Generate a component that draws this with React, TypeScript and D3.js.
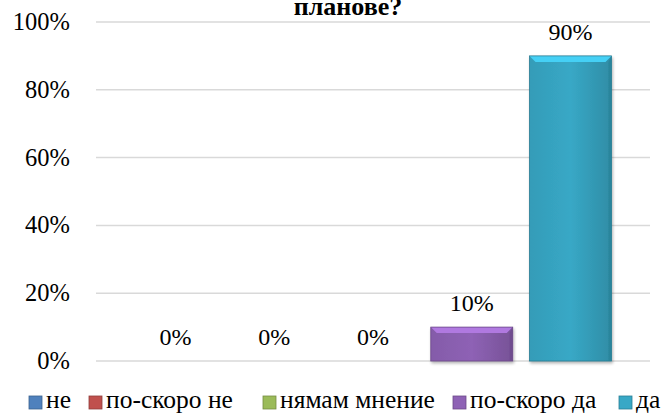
import React from "react";
import * as d3 from "d3";

const categories = ["не", "по-скоро не", "нямам мнение", "по-скоро да", "да"];
const values = [0, 0, 0, 10, 90];
const colors = ["#4f81bd", "#c0504d", "#9bbb59", "#8e62b5", "#38a8c6"];
const yTicks = [0, 20, 40, 60, 80, 100];
const titleLines = ["планове?"];

const W = 666;
const H = 414;
const FONT = '"Liberation Serif", "Times New Roman", serif';

export default function App() {
  const x = d3.scaleBand<string>().domain(categories).range([96, 650]).paddingInner(0.17).paddingOuter(0.39);
  const y = d3.scaleLinear().domain([0, 100]).range([361, 22]);
  const legendX = [29, 89, 263, 453, 619];
  const bw = x.bandwidth();
  const bev = 6;
  const ts = { fontFamily: FONT };

  return (
    <svg width={W} height={H} style={{ position: "absolute", left: 0, top: 0 }}>
      <rect width={W} height={H} fill="#fff" />
      <defs>
        {colors.map((c, i) => (
          <linearGradient key={i} id={`g${i}`} x1="0" y1="0" x2="1" y2="0">
            <stop offset="0" stopColor={d3.color(c)!.darker(0.2).toString()} />
            <stop offset="0.5" stopColor={c} />
            <stop offset="1" stopColor={d3.color(c)!.darker(0.5).toString()} />
          </linearGradient>
        ))}
        <filter id="sh" x="-10%" y="-10%" width="130%" height="130%">
          <feGaussianBlur in="SourceAlpha" stdDeviation="1.5" />
          <feOffset dx="1" dy="2" result="b" />
          <feComponentTransfer><feFuncA type="linear" slope="0.3" /></feComponentTransfer>
          <feMerge><feMergeNode /><feMergeNode in="SourceGraphic" /></feMerge>
        </filter>
      </defs>
      {titleLines.map((t, i) => (
        <text key={i} x={348} y={15} textAnchor="middle" fontWeight="bold" fontSize={26} style={ts}>{t}</text>
      ))}
      {yTicks.map((t) => (
        <g key={t}>
          <line x1={96} x2={650} y1={y(t)} y2={y(t)} stroke="#d9d9d9" strokeWidth={1.5} />
          <text x={70} y={y(t) + 8} textAnchor="end" fontSize={24.5} style={ts}>{t}%</text>
        </g>
      ))}
      {categories.map((c, i) => {
        const x0 = x(c)!;
        const top = y(values[i]);
        const h = y(0) - top;
        const col = colors[i];
        const light = d3.color(col)!.brighter(0.6).toString();
        const dark = d3.color(col)!.darker(0.8).toString();
        return (
          <g key={c}>
            {h > 0 && (
              <g filter="url(#sh)">
                <rect x={x0} y={top} width={bw} height={h} fill={`url(#g${i})`} />
                <polygon points={`${x0},${top} ${x0 + bw},${top} ${x0 + bw - bev},${top + bev} ${x0 + bev},${top + bev}`} fill={light} />
                <polygon points={`${x0 + bw},${top} ${x0 + bw},${top + h} ${x0 + bw - 3},${top + h} ${x0 + bw - 3},${top + bev}`} fill={dark} opacity={0.6} />
                <rect x={x0} y={top} width={bw} height={h} fill="none" stroke={dark} strokeWidth={0.8} />
              </g>
            )}
            <text x={x0 + bw / 2} y={top - 16} textAnchor="middle" fontSize={24} style={ts}>{values[i]}%</text>
          </g>
        );
      })}
      {categories.map((c, i) => (
        <g key={c}>
          <rect x={legendX[i]} y={396} width={13} height={13} fill={colors[i]} stroke={d3.color(colors[i])!.darker(0.8).toString()} strokeWidth={0.8} />
          <text x={legendX[i] + 17} y={408} fontSize={25.5} style={ts}>{c}</text>
        </g>
      ))}
    </svg>
  );
}
